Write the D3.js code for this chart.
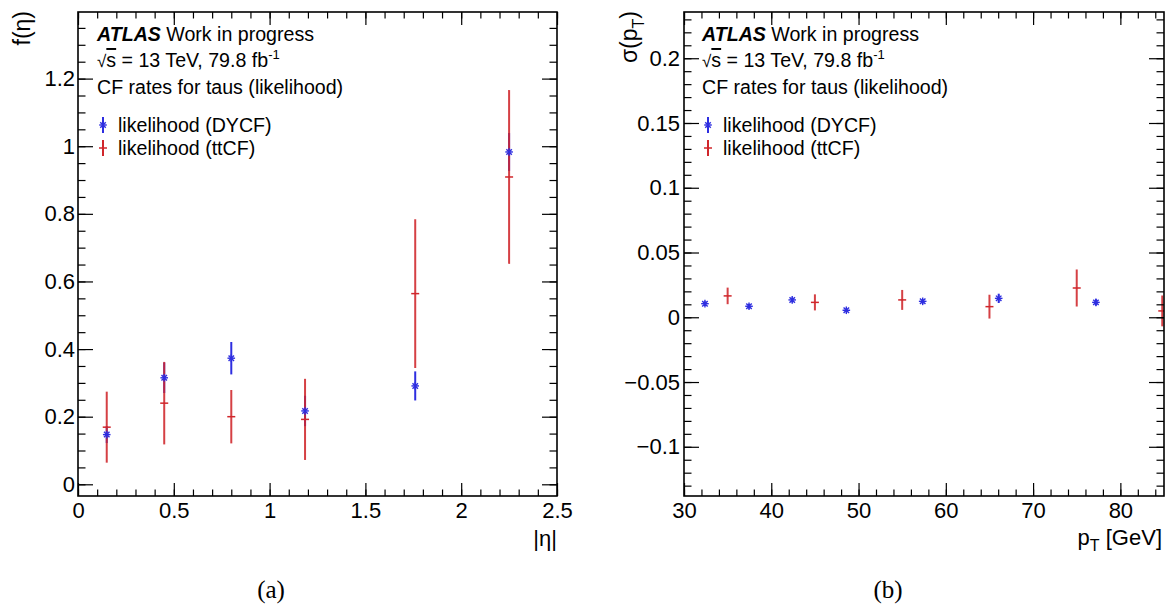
<!DOCTYPE html>
<html>
<head>
<meta charset="utf-8">
<script src="https://cdn.jsdelivr.net/npm/d3@7"></script>
<style>
  body { margin: 0; background: #fff; }
  svg text { font-family: "Liberation Sans", Arial, sans-serif; fill: #000; }
  .axis path { display: none; }
  .axis line { stroke: #000; stroke-width: 1.2; }
  .axis text { font-size: 22px; font-family: "Liberation Sans", Arial, sans-serif; }
  .caption { font-family: "Liberation Serif", "Times New Roman", serif !important; font-size: 25px; }
</style>
</head>
<body>
<svg></svg>
<script>
// ---- data ----
// panel (a): CF rate vs |eta|
let etaDY = [0.15, 0.45, 0.80, 1.185, 1.76, 2.25];
let rateDY = [0.147, 0.315, 0.373, 0.217, 0.291, 0.983];
let rateDYErr = [0.025, 0.045, 0.048, 0.045, 0.043, 0.056];
let etaTT = [0.15, 0.45, 0.80, 1.185, 1.76, 2.25];
let rateTT = [0.169, 0.240, 0.200, 0.192, 0.564, 0.909];
let rateTTErr = [0.105, 0.122, 0.079, 0.120, 0.220, 0.257];

// panel (b): CF rate vs pT
let ptDY = [32.4, 37.45, 42.4, 48.6, 57.35, 66.06, 77.2];
let ptRateDY = [0.0105, 0.0085, 0.0134, 0.0054, 0.0123, 0.0146, 0.0115];
let ptRateDYErr = [0.0018, 0.0018, 0.0018, 0.0015, 0.0018, 0.0036, 0.0025];
let ptTT = [35, 45, 55, 65, 75, 84.8];
let ptRateTT = [0.0165, 0.0115, 0.0134, 0.0082, 0.0226, 0.0049];
let ptRateTTErr = [0.0064, 0.0062, 0.0077, 0.0092, 0.0143, 0.0119];

// tick labels
let etaTicks = [0, 0.5, 1, 1.5, 2, 2.5];
let fTicks = [0, 0.2, 0.4, 0.6, 0.8, 1, 1.2];
let ptTicks = [30, 40, 50, 60, 70, 80];
let sigmaTicks = [-0.1, -0.05, 0, 0.05, 0.1, 0.15, 0.2];

let legendNames = ['likelihood (DYCF)', 'likelihood (ttCF)'];

// colours
let blue = '#2e2ee0';
let red = '#d0262b';

// ---- configuration of svg / plot areas ----
let config = { svg: {}, a: {}, b: {} };
config.svg.width = 1169;
config.svg.height = 606;
config.a.x = 78;  config.a.y = 12; config.a.width = 479; config.a.height = 484;
config.b.x = 684; config.b.y = 12; config.b.width = 480; config.b.height = 484;

let svg = d3.select('body').select('svg');
svg.attr('width', config.svg.width);
svg.attr('height', config.svg.height);

function translate(x, y) {
  return 'translate(' + x + ',' + y + ')';
}

// minor tick positions between lo and hi at a given step
function minorTicks(lo, hi, step) {
  return d3.range(Math.ceil(lo / step - 1e-9), Math.floor(hi / step + 1e-9) + 1)
    .map(i => +(i * step).toFixed(6));
}

function fmt(d) {
  return d === 0 ? '0' : d3.format('~g')(d);
}

// draws frame + ROOT-style inward ticks on all four sides
function drawFrame(g, cfg, x, y, xMajor, xStep, yMajor, yStep, xPad, yPad) {
  let w = cfg.width, h = cfg.height;
  let xMinor = minorTicks(x.domain()[0], x.domain()[1], xStep);
  let yMinor = minorTicks(y.domain()[0], y.domain()[1], yStep);

  // bottom
  g.append('g').attr('class', 'axis').attr('transform', translate(0, h))
    .call(d3.axisBottom(x).tickValues(xMajor).tickFormat(fmt).tickSize(-13).tickPadding(xPad));
  g.append('g').attr('class', 'axis').attr('transform', translate(0, h))
    .call(d3.axisBottom(x).tickValues(xMinor).tickFormat('').tickSize(-6.5));
  // top
  g.append('g').attr('class', 'axis')
    .call(d3.axisTop(x).tickValues(xMajor).tickFormat('').tickSize(-13));
  g.append('g').attr('class', 'axis')
    .call(d3.axisTop(x).tickValues(xMinor).tickFormat('').tickSize(-6.5));
  // left
  g.append('g').attr('class', 'axis')
    .call(d3.axisLeft(y).tickValues(yMajor).tickFormat(fmt).tickSize(-15).tickPadding(yPad));
  g.append('g').attr('class', 'axis')
    .call(d3.axisLeft(y).tickValues(yMinor).tickFormat('').tickSize(-7.5));
  // right
  g.append('g').attr('class', 'axis').attr('transform', translate(w, 0))
    .call(d3.axisRight(y).tickValues(yMajor).tickFormat('').tickSize(-15));
  g.append('g').attr('class', 'axis').attr('transform', translate(w, 0))
    .call(d3.axisRight(y).tickValues(yMinor).tickFormat('').tickSize(-7.5));

  g.append('rect')
    .attr('width', w).attr('height', h)
    .attr('fill', 'none').attr('stroke', '#000').attr('stroke-width', 1.6);
}

// asterisk marker (ROOT style 3)
function asterisk(sel, r) {
  let a = r * 0.72;
  sel.append('line').attr('x1', -r).attr('x2', r).attr('y1', 0).attr('y2', 0);
  sel.append('line').attr('x1', 0).attr('x2', 0).attr('y1', -r).attr('y2', r);
  sel.append('line').attr('x1', -a).attr('x2', a).attr('y1', -a).attr('y2', a);
  sel.append('line').attr('x1', -a).attr('x2', a).attr('y1', a).attr('y2', -a);
}

function toPoints(xs, vals, errs) {
  return xs.map((d, i) => ({ x: d, v: vals[i], e: errs[i] }));
}

function drawBars(layer, x, y, pts, colour, kind) {
  layer.selectAll('line.err-' + kind)
    .data(pts)
    .enter()
    .append('line')
      .attr('class', 'err-' + kind)
      .attr('x1', d => x(d.x)).attr('x2', d => x(d.x))
      .attr('y1', d => y(d.v - d.e)).attr('y2', d => y(d.v + d.e))
      .attr('stroke', colour)
      .attr('stroke-width', 2)
      .attr('opacity', kind === 'tt' ? 0.88 : 1);
}

function drawMarkers(layer, x, y, pts, colour, kind) {
  let m = layer.selectAll('g.mk-' + kind)
    .data(pts)
    .enter()
    .append('g')
      .attr('class', 'mk-' + kind)
      .attr('transform', d => translate(x(d.x), y(d.v)))
      .attr('stroke', colour)
      .attr('stroke-width', 1.4);
  if (kind === 'dy') {
    m.each(function() { asterisk(d3.select(this), 3.8); });
  } else {
    m.append('line').attr('x1', -4).attr('x2', 4).attr('y1', 0).attr('y2', 0).attr('stroke-width', 1.5);
  }
}

function drawSeries(g, x, y, dyPts, ttPts, clipId) {
  let layer = g.append('g').attr('clip-path', 'url(#' + clipId + ')');
  drawBars(layer, x, y, dyPts, blue, 'dy');
  drawBars(layer, x, y, ttPts, red, 'tt');
  drawMarkers(layer, x, y, ttPts, red, 'tt');
  drawMarkers(layer, x, y, dyPts, blue, 'dy');
}

function drawLabels(g, left) {
  let t = g.append('text').attr('x', left).attr('y', 41).style('font-size', '19.6px');
  t.append('tspan').text('ATLAS').style('font-weight', 'bold').style('font-style', 'italic');
  t.append('tspan').text(' Work in progress');

  let t2 = g.append('text').attr('x', left).attr('y', 67).style('font-size', '19.6px');
  t2.append('tspan').text('√').style('font-size', '17px');
  t2.append('tspan').text('s').style('text-decoration', 'overline');
  t2.append('tspan').text(' = 13 TeV, 79.8 fb');
  t2.append('tspan').text('-1').attr('dy', -8).style('font-size', '13px');

  g.append('text').attr('x', left).attr('y', 94).style('font-size', '19.6px')
    .text('CF rates for taus (likelihood)');

  // legend
  let rows = [
    { name: legendNames[0], colour: blue, kind: 'dy', y: 125 },
    { name: legendNames[1], colour: red, kind: 'tt', y: 148 }
  ];
  rows.forEach(function(r) {
    let lg = g.append('g').attr('transform', translate(left + 6, r.y)).attr('stroke', r.colour);
    lg.append('line').attr('x1', 0).attr('x2', 0).attr('y1', -8).attr('y2', 8).attr('stroke-width', 2);
    if (r.kind === 'dy') {
      asterisk(lg.append('g').attr('stroke-width', 1.4), 3.8);
    } else {
      lg.append('line').attr('x1', -4).attr('x2', 4).attr('y1', 0).attr('y2', 0).attr('stroke-width', 1.5);
    }
    g.append('text').attr('x', left + 21).attr('y', r.y + 6.5).style('font-size', '19.6px').text(r.name);
  });
}

let defs = svg.append('defs');
defs.append('clipPath').attr('id', 'clipA').append('rect')
  .attr('width', config.a.width).attr('height', config.a.height);
defs.append('clipPath').attr('id', 'clipB').append('rect')
  .attr('width', config.b.width).attr('height', config.b.height);

// ---------------- panel (a) ----------------
let xA = d3.scaleLinear().domain([0, 2.5]).range([0, config.a.width]);
let yA = d3.scaleLinear().domain([-0.0346, 1.397]).range([config.a.height, 0]);
let gA = svg.append('g').attr('transform', translate(config.a.x, config.a.y));

drawSeries(gA, xA, yA, toPoints(etaDY, rateDY, rateDYErr), toPoints(etaTT, rateTT, rateTTErr), 'clipA');
drawFrame(gA, config.a, xA, yA, etaTicks, 0.1, fTicks, 0.05, 6, 3);
drawLabels(svg, 97);

svg.append('text')
  .attr('transform', translate(30, 11) + ' rotate(-90)')
  .attr('text-anchor', 'end')
  .style('font-size', '23px')
  .text('f(η)');
svg.append('text')
  .attr('x', 557).attr('y', 546)
  .attr('text-anchor', 'end')
  .style('font-size', '22px')
  .text('|η|');

// ---------------- panel (b) ----------------
let xB = d3.scaleLinear().domain([30, 85]).range([0, config.b.width]);
let yB = d3.scaleLinear().domain([-0.138, 0.2357]).range([config.b.height, 0]);
let gB = svg.append('g').attr('transform', translate(config.b.x, config.b.y));

drawSeries(gB, xB, yB, toPoints(ptDY, ptRateDY, ptRateDYErr), toPoints(ptTT, ptRateTT, ptRateTTErr), 'clipB');
drawFrame(gB, config.b, xB, yB, ptTicks, 2, sigmaTicks, 0.01, 6, 4);
drawLabels(svg, 702);

let sy = svg.append('text')
  .attr('transform', translate(637, 11) + ' rotate(-90)')
  .attr('text-anchor', 'end')
  .style('font-size', '23px');
sy.append('tspan').text('σ(p');
sy.append('tspan').text('T').attr('dy', 7).style('font-size', '16px');
sy.append('tspan').text(')').attr('dy', -7);

let px = svg.append('text')
  .attr('x', 1162).attr('y', 545)
  .attr('text-anchor', 'end')
  .style('font-size', '22px');
px.append('tspan').text('p');
px.append('tspan').text('T').attr('dy', 6).style('font-size', '16px');
px.append('tspan').text(' [GeV]').attr('dy', -6);

// captions
svg.append('text').attr('class', 'caption')
  .attr('x', 271).attr('y', 598).attr('text-anchor', 'middle').text('(a)');
svg.append('text').attr('class', 'caption')
  .attr('x', 888).attr('y', 598).attr('text-anchor', 'middle').text('(b)');
</script>
</body>
</html>
